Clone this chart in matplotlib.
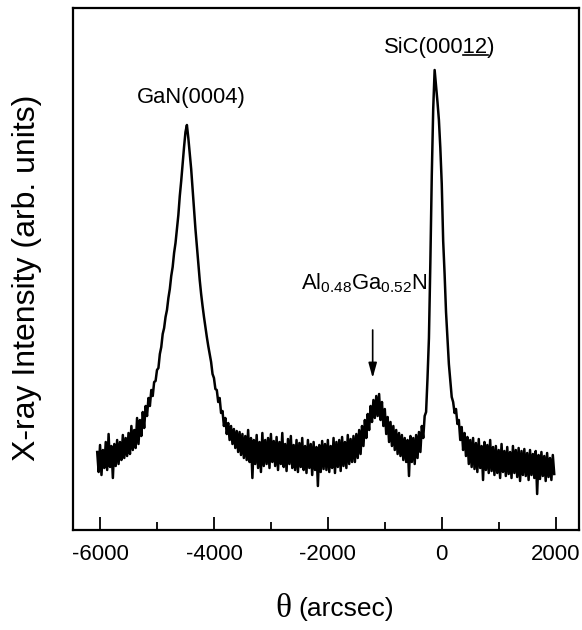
import numpy as np
import matplotlib
matplotlib.use("Agg")
import matplotlib.pyplot as plt

plt.rcParams["font.family"] = ["Liberation Sans", "DejaVu Sans"]
plt.rcParams["mathtext.fontset"] = "custom"
plt.rcParams["mathtext.rm"] = "Liberation Sans"
plt.rcParams["mathtext.it"] = "Liberation Sans"
plt.rcParams["mathtext.default"] = "regular"
plt.rcParams["axes.unicode_minus"] = False

# ---- data (theta grid step 25 arcsec) ----
theta_first = -6050
theta_step = 25
intensity = [
    # -6050 .. -5575
    78, 58, 85, 55, 80, 62, 88, 60, 96, 63, 84, 52, 86, 64, 90, 66, 88, 70, 95, 72,
    # -5550 .. -5075
    92, 74, 97, 76, 104, 80, 100, 82, 112, 86, 110, 94, 118, 102, 124, 114, 132, 124, 140, 134,
    # -5050 .. -4575
    148, 149, 160, 162, 176, 183, 196, 202, 213, 220, 232, 241, 254, 263, 277, 287, 301, 315, 334, 349,
    # -4550 .. -4075
    366, 383, 398, 405, 392, 377, 361, 341, 321, 301, 284, 266, 250, 236, 224, 213, 203, 193, 184, 176,
    # -4050 .. -3575
    168, 156, 152, 141, 140, 128, 132, 117, 119, 104, 112, 96, 107, 90, 104, 86, 101, 82, 99, 78,
    # -3550 .. -3075
    98, 75, 96, 72, 94, 70, 100, 68, 92, 52, 90, 66, 95, 62, 88, 58, 97, 64, 90, 66,
    # -3050 .. -2575
    92, 62, 96, 68, 89, 64, 93, 60, 88, 66, 97, 63, 86, 59, 91, 66, 94, 62, 85, 60,
    # -2550 .. -2075
    90, 58, 87, 63, 92, 60, 84, 57, 90, 62, 86, 55, 88, 60, 83, 44, 85, 58, 89, 61,
    # -2050 .. -1575
    86, 60, 90, 58, 84, 62, 92, 57, 88, 63, 90, 59, 93, 64, 88, 62, 95, 66, 91, 68,
    # -1550 .. -1075
    94, 68, 96, 72, 100, 76, 104, 84, 110, 92, 116, 100, 124, 108, 130, 112, 134, 114, 136, 110,
    # -1050 .. -575
    128, 104, 121, 96, 113, 88, 108, 84, 104, 80, 100, 76, 97, 74, 95, 70, 92, 68, 90, 54,
    # -550 .. -75
    94, 68, 92, 66, 95, 72, 98, 78, 104, 92, 114, 118, 152, 192, 268, 355, 421, 460, 444, 428,
    # -50 .. 425
    410, 382, 346, 289, 256, 218, 191, 166, 149, 133, 128, 117, 121, 106, 110, 90, 103, 80, 97, 74,
    # 450 .. 925
    93, 66, 90, 63, 92, 61, 87, 58, 91, 62, 84, 50, 88, 60, 85, 57, 90, 59, 83, 55,
    # 950 .. 1425
    84, 57, 80, 52, 86, 58, 79, 54, 83, 56, 78, 52, 84, 57, 80, 53, 82, 49, 79, 55,
    # 1450 .. 1975
    81, 54, 77, 50, 80, 55, 76, 52, 79, 36, 75, 51, 78, 54, 74, 49, 77, 53, 72, 50, 75, 56,
]
theta = theta_first + theta_step * np.arange(len(intensity))

x_ticks_major = [-6000, -4000, -2000, 0, 2000]
x_ticks_minor = [-5000, -3000, -1000, 1000]

fig = plt.figure(figsize=(5.82, 6.30), dpi=100)
ax = fig.add_axes([73 / 582, 1 - 530 / 630, (579 - 73) / 582, (530 - 7.5) / 630])

ax.plot(theta, intensity, color="black", lw=1.8)

ax.set_xlim(-6475, 2410)
ax.set_ylim(0, 522.5)
ax.set_xticks(x_ticks_major)
ax.set_xticklabels([str(v) for v in x_ticks_major])
ax.set_xticks(x_ticks_minor, minor=True)
ax.set_yticks([])
ax.tick_params(axis="x", which="major", direction="in", length=9.5, width=1.3,
               labelsize=16, pad=10)
ax.tick_params(axis="x", which="minor", direction="in", length=6, width=1.3)
for s in ax.spines.values():
    s.set_linewidth(1.6)

FS = 15.8
# annotations
ax.text(-4400, 433, "GaN(0004)", ha="center", va="center", fontsize=FS)
sic = ax.text(-40, 483, "SiC(00012)", ha="center", va="center", fontsize=FS)
ax.text(-1366, 247, "Al$_{0.48}$Ga$_{0.52}$N", ha="center", va="center", fontsize=FS)
ax.annotate("", xy=(-1213, 152), xytext=(-1213, 200),
            arrowprops=dict(arrowstyle="-|>,head_length=0.9,head_width=0.25",
                            color="black", lw=1.2, shrinkA=0, shrinkB=0))

# underline "12" of SiC(00012)
fig.canvas.draw()
r = fig.canvas.get_renderer()
bb = sic.get_window_extent(r)
def _w(s):
    t = ax.text(0, 0, s, fontsize=FS)
    w = t.get_window_extent(r).width
    t.remove()
    return w
x0 = bb.x0 + _w("SiC(000")
x1 = bb.x0 + _w("SiC(00012")
yl = bb.y0 + 2.5
fig.add_artist(plt.Line2D([x0 / fig.dpi / 5.82, x1 / fig.dpi / 5.82],
                          [yl / fig.dpi / 6.30, yl / fig.dpi / 6.30],
                          color="black", lw=1.2))

# axis labels
fig.text(27 / 582, 1 - 278 / 630, "X-ray Intensity (arb. units)", rotation=90,
         ha="center", va="center", fontsize=23)
fig.text(291 / 582, 1 - 609 / 630, "θ", family=["Liberation Serif", "DejaVu Serif"],
         ha="right", va="center", fontsize=24)
fig.text(298 / 582, 1 - 609 / 630, "(arcsec)", ha="left", va="center", fontsize=19)

fig.savefig("out.png", dpi=100)
